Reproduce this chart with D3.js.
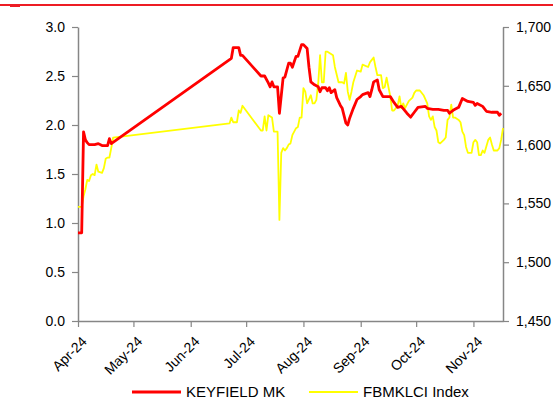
<!DOCTYPE html>
<html>
<head>
<meta charset="utf-8">
<script src="https://cdn.jsdelivr.net/npm/d3@7/dist/d3.min.js"></script>
<style>
  html, body { margin: 0; padding: 0; background: #fff; }
  svg { display: block; font-family: Arial, "Liberation Sans", sans-serif; }
</style>
</head>
<body>
<svg id="chart" width="553" height="401"></svg>
<script>
// KEYFIELD MK share price (left axis, MYR)
const keyfieldDates = ["2024-04-01","2024-04-03","2024-04-04","2024-04-05","2024-04-06","2024-04-07","2024-04-10","2024-04-12","2024-04-14","2024-04-17","2024-04-18","2024-04-19",
  "2024-06-23","2024-06-24","2024-06-27","2024-06-28","2024-06-29","2024-07-09","2024-07-11","2024-07-13","2024-07-14","2024-07-15","2024-07-16","2024-07-18","2024-07-19",
  "2024-07-21","2024-07-22","2024-07-24","2024-07-25","2024-07-26","2024-07-28","2024-07-29","2024-07-31","2024-08-01","2024-08-03","2024-08-04","2024-08-05","2024-08-07",
  "2024-08-09","2024-08-10","2024-08-11","2024-08-13","2024-08-14","2024-08-15","2024-08-16","2024-08-18","2024-08-19","2024-08-21","2024-08-22","2024-08-24","2024-08-25",
  "2024-08-26","2024-08-28","2024-08-30","2024-09-01","2024-09-02","2024-09-05","2024-09-06","2024-09-07","2024-09-08","2024-09-10","2024-09-11","2024-09-13","2024-09-17",
  "2024-09-19","2024-09-21","2024-09-23","2024-09-26","2024-09-28","2024-09-30","2024-10-02","2024-10-06","2024-10-07","2024-10-10","2024-10-13","2024-10-16","2024-10-18",
  "2024-10-19","2024-10-21","2024-10-24","2024-10-26","2024-10-29","2024-11-01","2024-11-02","2024-11-03","2024-11-06","2024-11-08","2024-11-11","2024-11-14","2024-11-15","2024-11-16"];
const keyfieldValues = [0.90,0.90,1.93,1.85,1.82,1.80,1.80,1.81,1.79,1.79,1.86,1.81,
  2.68,2.79,2.79,2.71,2.71,2.50,2.50,2.43,2.39,2.44,2.39,2.39,2.12,
  2.48,2.49,2.63,2.63,2.59,2.70,2.70,2.82,2.82,2.78,2.59,2.44,2.41,
  2.39,2.34,2.38,2.38,2.35,2.38,2.33,2.36,2.28,2.20,2.17,2.02,2.00,
  2.07,2.17,2.26,2.29,2.31,2.33,2.29,2.36,2.44,2.46,2.36,2.29,2.29,
  2.23,2.18,2.19,2.12,2.08,2.13,2.18,2.19,2.17,2.16,2.16,2.15,2.15,
  2.12,2.15,2.18,2.27,2.24,2.23,2.20,2.22,2.19,2.14,2.13,2.13,2.10,2.12];

// FBMKLCI Index level (right axis)
const klciDates = ["2024-04-01","2024-04-03","2024-04-04","2024-04-05","2024-04-06","2024-04-07","2024-04-08","2024-04-09","2024-04-10","2024-04-11","2024-04-12","2024-04-14",
  "2024-04-15","2024-04-16","2024-04-17","2024-04-18","2024-04-19","2024-04-20",
  "2024-06-22","2024-06-23","2024-06-24","2024-06-26","2024-06-27","2024-06-28","2024-06-29","2024-07-09","2024-07-10","2024-07-11","2024-07-12","2024-07-13","2024-07-15",
  "2024-07-16","2024-07-18","2024-07-19","2024-07-20","2024-07-21","2024-07-22","2024-07-23","2024-07-24","2024-07-25","2024-07-26","2024-07-28","2024-07-29","2024-07-30",
  "2024-07-31","2024-08-01","2024-08-02","2024-08-03","2024-08-05","2024-08-06","2024-08-07","2024-08-08","2024-08-09","2024-08-10","2024-08-11","2024-08-12","2024-08-13",
  "2024-08-14","2024-08-17","2024-08-18","2024-08-20","2024-08-22","2024-08-23","2024-08-24","2024-08-25","2024-08-26","2024-08-27","2024-08-28","2024-08-30","2024-09-01",
  "2024-09-02","2024-09-05","2024-09-06","2024-09-07","2024-09-08","2024-09-09","2024-09-10","2024-09-12","2024-09-13","2024-09-14","2024-09-15","2024-09-16","2024-09-17",
  "2024-09-18","2024-09-19","2024-09-21","2024-09-22","2024-09-23","2024-09-24","2024-09-25","2024-09-27","2024-09-29","2024-09-30","2024-10-01","2024-10-03","2024-10-05",
  "2024-10-07","2024-10-08","2024-10-09","2024-10-10","2024-10-11","2024-10-12","2024-10-13","2024-10-14","2024-10-16","2024-10-17","2024-10-18","2024-10-19","2024-10-20",
  "2024-10-21","2024-10-22","2024-10-24","2024-10-25","2024-10-26","2024-10-27","2024-10-28","2024-10-29","2024-10-31","2024-11-01","2024-11-02","2024-11-03","2024-11-04",
  "2024-11-05","2024-11-06","2024-11-07","2024-11-09","2024-11-10","2024-11-11","2024-11-12","2024-11-14","2024-11-15","2024-11-16","2024-11-17"];
const klciValues = [1547,1547,1556,1562,1570,1569,1574,1575,1574,1583,1577,1576,
  1580,1588,1589,1589,1597,1606,
  1618,1623,1619,1619,1629,1627,1633,1612,1612,1624,1612,1625,1623,
  1611,1611,1536,1593,1597,1595,1597,1600,1601,1608,1614,1615,1623,
  1623,1648,1645,1635,1642,1635,1635,1638,1652,1676,1653,1653,1679,
  1679,1676,1666,1653,1653,1652,1661,1645,1638,1645,1653,1663,1662,
  1668,1666,1670,1672,1674,1666,1659,1659,1648,1649,1657,1649,1641,
  1629,1629,1633,1641,1631,1635,1631,1637,1640,1644,1646,1646,1642,
  1635,1624,1621,1624,1615,1612,1602,1601,1604,1606,1621,1623,1634,
  1623,1623,1621,1619,1611,1608,1598,1593,1593,1602,1604,1602,1591,
  1591,1595,1593,1604,1606,1600,1595,1595,1597,1604,1614];

const monthTicks = ["2024-04-01","2024-05-01","2024-06-01","2024-07-01","2024-08-01","2024-09-01","2024-10-01","2024-11-01"];
const leftTicks = [0, 0.5, 1.0, 1.5, 2.0, 2.5, 3.0];
const rightTicks = [1450, 1500, 1550, 1600, 1650, 1700];
const seriesNames = ["KEYFIELD MK", "FBMKLCI Index"];
const seriesColors = ["#ff0000", "#ffff00"];

const parse = d3.timeParse("%Y-%m-%d");
const keyfield = keyfieldDates.map((d, i) => ({ date: parse(d), value: keyfieldValues[i] }));
const klci = klciDates.map((d, i) => ({ date: parse(d), value: klciValues[i] }));

const svg = d3.select("#chart");
const plot = { left: 78, right: 503, top: 27, bottom: 321 };
const axisColor = "#868686";

// Header rule
svg.append("rect").attr("x", 0).attr("y", 4).attr("width", 553).attr("height", 2).attr("fill", "#ed1c24");
svg.append("rect").attr("x", 10).attr("y", 4).attr("width", 10).attr("height", 3).attr("fill", "#ed1c24");

const x = d3.scaleTime().domain([parse("2024-04-01"), parse("2024-11-17")]).range([plot.left, plot.right]);
const yL = d3.scaleLinear().domain([0, 3]).range([plot.bottom, plot.top]);
const yR = d3.scaleLinear().domain([1450, 1700]).range([plot.bottom, plot.top]);

function styleAxis(g) {
  g.select(".domain").attr("stroke", axisColor).attr("stroke-width", 1.5);
  g.selectAll(".tick line").attr("stroke", axisColor).attr("stroke-width", 1.2);
  g.selectAll(".tick text").attr("fill", "#000").style("font-size", "14px");
}

// Left axis
svg.append("g")
  .attr("transform", `translate(${plot.left},0)`)
  .call(d3.axisLeft(yL).tickValues(leftTicks).tickFormat(d3.format(".1f")).tickSize(6).tickSizeOuter(0).tickPadding(7))
  .call(styleAxis);

// Right axis
svg.append("g")
  .attr("transform", `translate(${plot.right},0)`)
  .call(d3.axisRight(yR).tickValues(rightTicks).tickFormat(d3.format(",")).tickSize(6).tickSizeOuter(0).tickPadding(7))
  .call(styleAxis);

// Bottom axis with rotated month labels
const xAxis = svg.append("g")
  .attr("transform", `translate(0,${plot.bottom})`)
  .call(d3.axisBottom(x).tickValues(monthTicks.map(parse)).tickFormat(d3.timeFormat("%b-%y")).tickSize(6).tickSizeOuter(0))
  .call(styleAxis);
xAxis.selectAll(".tick text")
  .attr("text-anchor", "end")
  .attr("dx", 0)
  .attr("dy", 0)
  .attr("transform", "translate(3,15) rotate(-45)");

// Series lines
const lineL = d3.line().x(d => x(d.date)).y(d => yL(d.value));
const lineR = d3.line().x(d => x(d.date)).y(d => yR(d.value));

svg.append("path").datum(klci)
  .attr("fill", "none").attr("stroke", seriesColors[1]).attr("stroke-width", 1.8)
  .attr("stroke-linejoin", "round").attr("d", lineR);

svg.append("path").datum(keyfield)
  .attr("fill", "none").attr("stroke", seriesColors[0]).attr("stroke-width", 2.8)
  .attr("stroke-linejoin", "round").attr("d", lineL);

// Legend
const legendItems = [
  { name: seriesNames[0], color: seriesColors[0], x: 132, w: 2.8 },
  { name: seriesNames[1], color: seriesColors[1], x: 309, w: 1.8 }
];
const legend = svg.append("g").attr("transform", "translate(0,392)");
legendItems.forEach(it => {
  legend.append("line").attr("x1", it.x).attr("x2", it.x + 49).attr("y1", 0).attr("y2", 0)
    .attr("stroke", it.color).attr("stroke-width", it.w + 0.4);
  legend.append("text").attr("x", it.x + 54).attr("y", 0).attr("dy", "0.35em")
    .style("font-size", "15px").attr("fill", "#000").text(it.name);
});
</script>
</body>
</html>
